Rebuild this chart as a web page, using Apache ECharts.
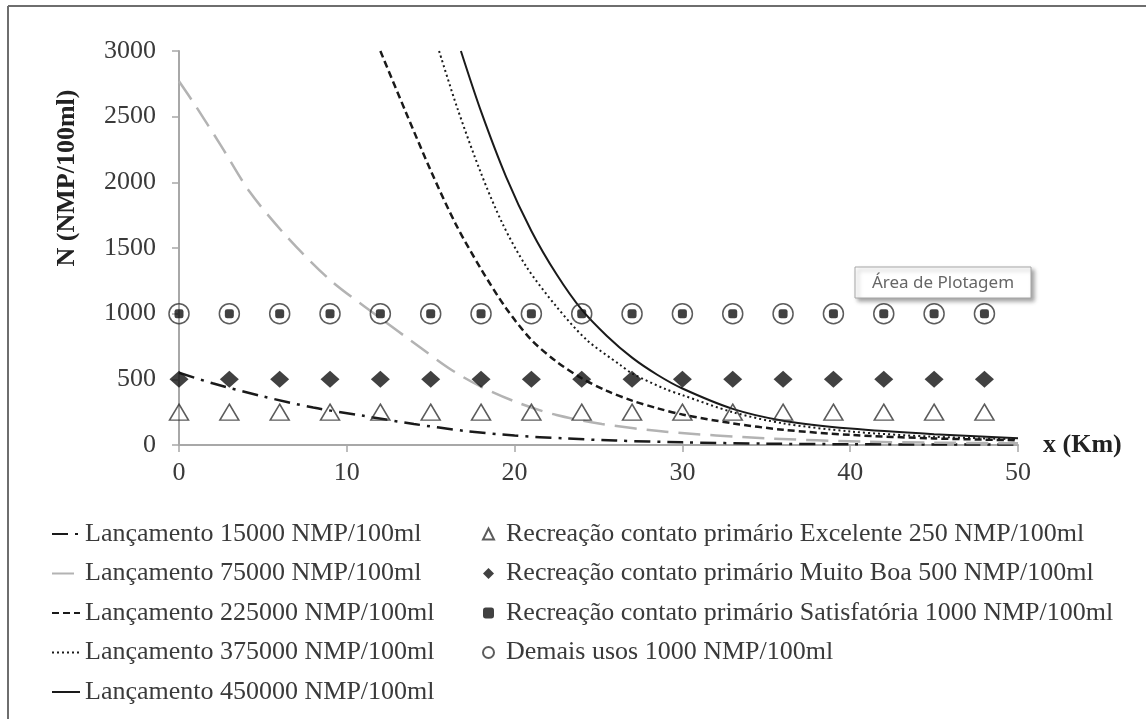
<!DOCTYPE html>
<html>
<head>
<meta charset="utf-8">
<script src="https://cdn.jsdelivr.net/npm/echarts@6/dist/echarts.min.js"></script>
<style>
html,body{margin:0;padding:0;background:#fff;}
#chart{width:1146px;height:719px;}
</style>
</head>
<body>
<div id="chart"></div>
<script>
// ---- Data ----
var xTicks = [0, 10, 20, 30, 40, 50];
var yTicks = [0, 500, 1000, 1500, 2000, 2500, 3000];

var names = [
  'Lançamento 15000 NMP/100ml',
  'Lançamento 75000 NMP/100ml',
  'Lançamento 225000 NMP/100ml',
  'Lançamento 375000 NMP/100ml',
  'Lançamento 450000 NMP/100ml',
  'Recreação contato primário Excelente 250 NMP/100ml',
  'Recreação contato primário Muito Boa 500 NMP/100ml',
  'Recreação contato primário Satisfatória 1000 NMP/100ml',
  'Demais usos 1000 NMP/100ml'
];

// curves: [x (Km), N (NMP/100ml)]
var curve15000 = [[0,550],[2,470],[5,370],[8,285],[11,222],[14,160],[17,108],[20,72],[23,50],[26,34],[30,20],[35,10],[40,6],[45,4],[50,3]];
var curve75000 = [[0,2770],[1,2580],[2.5,2280],[4.2,1930],[6.4,1590],[9,1257],[11.8,985],[14.4,740],[16.2,575],[18,444],[20.3,317],[22.5,228],[25.2,160],[29,101],[35,51],[41,25],[45,18],[50,13]];
var curve225000 = [[12,3000],[13.5,2540],[15,2090],[16.5,1680],[18,1340],[19.5,1040],[21,800],[22.5,635],[24,508],[25.5,412],[27,338],[28.5,280],[30,232],[33,165],[36,116],[40,77],[45,50],[50,36]];
var curve375000 = [[15.5,3000],[16.6,2560],[18,2069],[19.3,1680],[20.7,1358],[22.5,1053],[24.3,800],[26.3,609],[27,545],[29,425],[30,380],[33,250],[36,165],[40,103],[45,63],[50,44]];
var curve450000 = [[16.8,3000],[18,2540],[19.5,2040],[21,1630],[22.5,1300],[24,1030],[25.5,830],[27,665],[28.5,535],[30,430],[33,275],[36,185],[40,125],[45,82],[50,52]];

// limit markers
var markerX = [0,3,6,9,12,15,18,21,24,27,30,33,36,39,42,45,48];
var excelente = [250,250,250,250,250,250,250,250,250,250,250,250,250,250,250,250,250];
var muitoBoa = [500,500,500,500,500,500,500,500,500,500,500,500,500,500,500,500,500];
var satisfatoria = [1000,1000,1000,1000,1000,1000,1000,1000,1000,1000,1000,1000,1000,1000,1000,1000,1000];
var demaisUsos = [1000,1000,1000,1000,1000,1000,1000,1000,1000,1000,1000,1000,1000,1000,1000,1000,1000];

function pairs(xs, ys){ return xs.map(function(x,i){ return [x, ys[i]]; }); }

var FONT = 'Liberation Serif';
var TXT = '#3a3a3a';

var chart = echarts.init(document.getElementById('chart'), null, {renderer:'canvas'});

function lineSeries(name, data, color, width, type){
  return {
    name: name, type: 'line', data: data, smooth: 0.3,
    symbol: 'none', showSymbol: false, z: 2,
    lineStyle: {color: color, width: width, type: type},
    itemStyle: {color: color},
    emphasis: {disabled: true}
  };
}

var option = {
  animation: false,
  backgroundColor: '#fff',
  grid: {left: 179, right: 128, top: 51, bottom: 274, containLabel: false},
  xAxis: {
    type: 'value', min: xTicks[0], max: xTicks[xTicks.length-1], interval: 10,
    name: 'x (Km)', nameLocation: 'end', nameGap: 25,
    nameTextStyle: {fontFamily: FONT, fontSize: 26, fontWeight: 'bold', color: '#222', padding: [0,0,20,0], verticalAlign: 'middle', align: 'left'},
    axisLine: {show: true, onZero: false, lineStyle: {color: '#a8a8a8', width: 2}},
    axisTick: {show: true, inside: false, length: 7, lineStyle: {color: '#a8a8a8', width: 1.5}},
    axisLabel: {fontFamily: FONT, fontSize: 26, color: TXT, margin: 15, formatter: function(v){ return String(v); }},
    splitLine: {show: false}
  },
  yAxis: {
    type: 'value', min: yTicks[0], max: yTicks[yTicks.length-1], interval: 500,
    axisLine: {show: true, lineStyle: {color: '#a8a8a8', width: 2}},
    axisTick: {show: true, inside: false, length: 7, lineStyle: {color: '#a8a8a8', width: 1.5}},
    axisLabel: {fontFamily: FONT, fontSize: 26, color: TXT, margin: 23, formatter: function(v){ return String(v); }},
    splitLine: {show: false}
  },
  legend: [
    {
      data: names.slice(0,5), orient: 'vertical', left: 46, top: 514,
      itemWidth: 28, itemHeight: 14, itemGap: 9.5,
      itemStyle: {color: 'rgba(0,0,0,0)', borderWidth: 0, opacity: 0},
      textStyle: {fontFamily: FONT, fontSize: 26, color: TXT, lineHeight: 30},
      selectedMode: false
    },
    {
      data: names.slice(5), orient: 'vertical', left: 477, top: 514,
      itemWidth: 11, itemHeight: 11, itemGap: 9.5,
      textStyle: {fontFamily: FONT, fontSize: 26, color: TXT, lineHeight: 30, padding: [0,0,0,7]},
      selectedMode: false
    }
  ],
  series: [
    lineSeries(names[0], curve15000, '#1a1a1a', 2.5, [16,7,3,7]),
    lineSeries(names[1], curve75000, '#b3b3b3', 2.5, [22,10]),
    lineSeries(names[2], curve225000, '#1a1a1a', 2.5, [7,4]),
    lineSeries(names[3], curve375000, '#1a1a1a', 2, [2,3]),
    lineSeries(names[4], curve450000, '#1a1a1a', 2, 'solid'),
    {
      name: names[5], type: 'scatter', data: pairs(markerX, excelente),
      symbol: 'triangle', symbolSize: [19,16], z: 3,
      itemStyle: {color: 'rgba(255,255,255,0)', borderColor: '#333', borderWidth: 1.5},
      emphasis: {disabled: true}
    },
    {
      name: names[6], type: 'scatter', data: pairs(markerX, muitoBoa),
      symbol: 'diamond', symbolSize: [19,17], z: 3,
      itemStyle: {color: '#111'},
      emphasis: {disabled: true}
    },
    {
      name: names[7], type: 'scatter', data: pairs(markerX, satisfatoria),
      symbol: 'roundRect', symbolSize: 9, z: 4,
      itemStyle: {color: '#111'},
      emphasis: {disabled: true}
    },
    {
      name: names[8], type: 'scatter', data: pairs(markerX, demaisUsos),
      symbol: 'circle', symbolSize: 20, z: 3,
      itemStyle: {color: 'rgba(255,255,255,0)', borderColor: '#333', borderWidth: 1.5},
      emphasis: {disabled: true}
    }
  ],
  graphic: [
    {type: 'line', shape: {x1: 8, y1: 6, x2: 1146, y2: 6}, style: {stroke: '#6e6e6e', lineWidth: 2}, silent: true},
    {type: 'line', shape: {x1: 8, y1: 6, x2: 8, y2: 719}, style: {stroke: '#6e6e6e', lineWidth: 2}, silent: true},
    {
      type: 'text', x: 67, y: 178, rotation: Math.PI/2, silent: true,
      style: {text: 'N (NMP/100ml)', font: 'bold 26px "Liberation Serif"', fill: '#222', align: 'center', verticalAlign: 'middle'}
    },
    {
      type: 'rect', shape: {x: 855, y: 267, width: 176, height: 31}, silent: true, z: 10,
      style: {fill: '#fff', stroke: '#a6a6a6', lineWidth: 1, shadowColor: 'rgba(0,0,0,0.35)', shadowBlur: 4, shadowOffsetX: 3, shadowOffsetY: 3}
    },
    {
      type: 'text', x: 943, y: 283, silent: true, z: 11,
      style: {text: 'Área de Plotagem', font: '17px "Noto Sans"', fill: '#666', align: 'center', verticalAlign: 'middle'}
    }
  ]
};
chart.setOption(option);
</script>
</body>
</html>
